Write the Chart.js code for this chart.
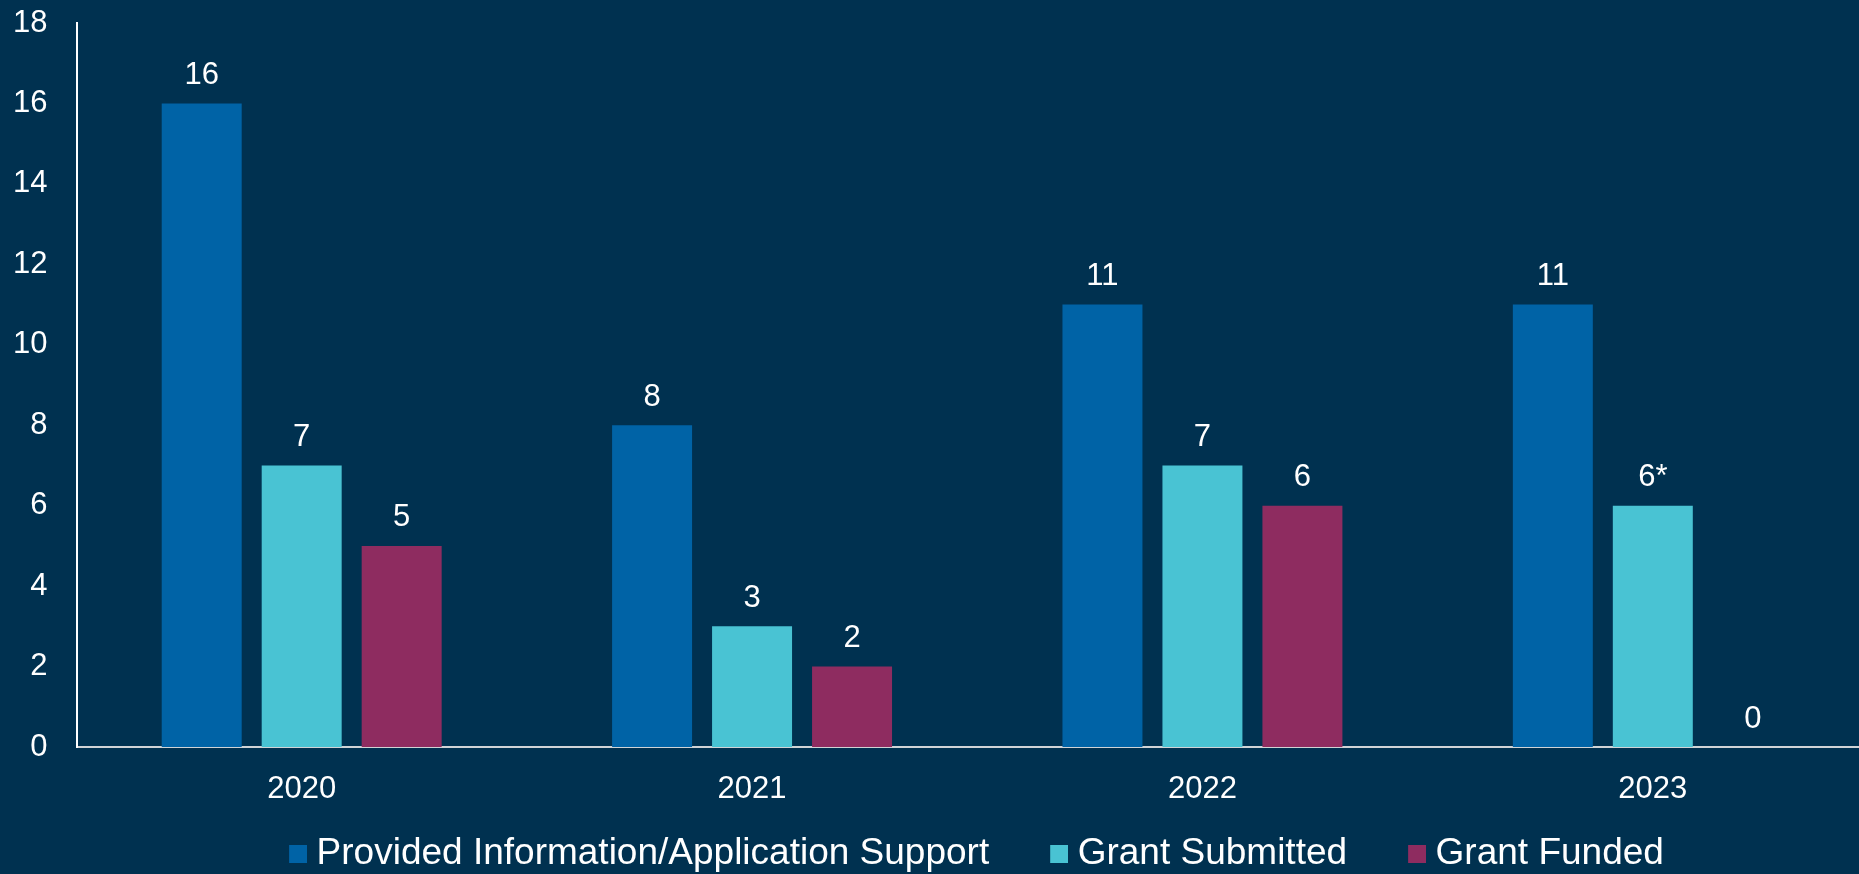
<!DOCTYPE html>
<html>
<head>
<meta charset="utf-8">
<script src="https://cdn.jsdelivr.net/npm/chart.js@4.4.1/dist/chart.umd.min.js"></script>
<style>
  html, body { margin: 0; padding: 0; background: #003150; overflow: hidden; }
  /* the reference is cut off on the right, so the chart runs past the window edge */
  #wrap { position: absolute; left: 0; top: 0; width: 1878px; height: 882px; }
</style>
</head>
<body>
<div id="wrap"><canvas id="grantChart"></canvas></div>
<script>
const years = ['2020', '2021', '2022', '2023'];
const providedSupport = [16, 8, 11, 11];
const grantSubmitted = [7, 3, 7, 6];
const grantFunded = [5, 2, 6, 0];
// footnote marks printed after the value labels
const submittedMarks = ['', '', '', '*'];
const yTicks = [0, 2, 4, 6, 8, 10, 12, 14, 16, 18];

const FONT = '"Liberation Sans", Arial, sans-serif';
const legendBoxWidth = 60;

// Legend swatch: small square sitting at the right end of a wide box,
// so it lands close to its label text
function legendSwatch(color) {
  const c = document.createElement('canvas');
  c.width = legendBoxWidth + 18;
  c.height = 18;
  const g = c.getContext('2d');
  g.fillStyle = color;
  g.fillRect(c.width - 18, 0, 18, 18);
  return c;
}

const colors = ['#0063A6', '#49C3D3', '#8E2C60'];
const swatches = colors.map(legendSwatch);

// Value labels above each bar
const valueLabels = {
  id: 'valueLabels',
  afterDatasetsDraw(chart) {
    const {ctx} = chart;
    ctx.save();
    ctx.font = '31px ' + FONT;
    ctx.fillStyle = '#ffffff';
    ctx.textAlign = 'center';
    ctx.textBaseline = 'alphabetic';
    chart.data.datasets.forEach((ds, i) => {
      chart.getDatasetMeta(i).data.forEach((bar, j) => {
        const mark = ds.marks ? ds.marks[j] : '';
        ctx.fillText(ds.data[j] + mark, bar.x, bar.y - 19.5);
      });
    });
    ctx.restore();
  }
};

const ctx = document.getElementById('grantChart').getContext('2d');
const grantChart = new Chart(ctx, {
  type: 'bar',
  data: {
    labels: years,
    datasets: [{
      label: 'Provided Information/Application Support',
      data: providedSupport,
      backgroundColor: colors[0]
    }, {
      label: 'Grant Submitted',
      data: grantSubmitted,
      marks: submittedMarks,
      backgroundColor: colors[1]
    }, {
      label: 'Grant Funded',
      data: grantFunded,
      backgroundColor: colors[2]
    }]
  },
  options: {
    responsive: true,
    maintainAspectRatio: false,
    animation: false,
    categoryPercentage: 0.666,
    barPercentage: 0.8,
    layout: {padding: {left: 24, top: 23, right: 0, bottom: 0}},
    plugins: {
      tooltip: {enabled: false},
      legend: {
        position: 'bottom',
        labels: {
          color: '#ffffff',
          font: {size: 37, family: FONT},
          usePointStyle: true,
          pointStyleWidth: legendBoxWidth,
          padding: 10,
          generateLabels(chart) {
            return Chart.defaults.plugins.legend.labels.generateLabels(chart)
                .map((item, i) => ({...item, pointStyle: swatches[i]}));
          }
        }
      }
    },
    scales: {
      x: {
        grid: {display: false},
        border: {display: true, color: '#d0d3d6', width: 2},
        ticks: {color: '#ffffff', font: {size: 31, family: FONT}, padding: 16},
        afterFit(scale) { scale.height = 78; }
      },
      y: {
        min: 0,
        max: 18,
        grid: {display: false},
        border: {display: true, color: '#ffffff', width: 2},
        // mirrored + far-aligned so the labels may sit left of the axis box
        // without being clipped; right edge lands ~29px left of the axis line
        ticks: {
          color: '#ffffff',
          font: {size: 31, family: FONT},
          mirror: true,
          crossAlign: 'far',
          padding: -63.5
        },
        afterBuildTicks(scale) { scale.ticks = yTicks.map(v => ({value: v})); },
        afterFit(scale) { scale.width = 52.5; }
      }
    }
  },
  plugins: [valueLabels]
});
</script>
</body>
</html>
